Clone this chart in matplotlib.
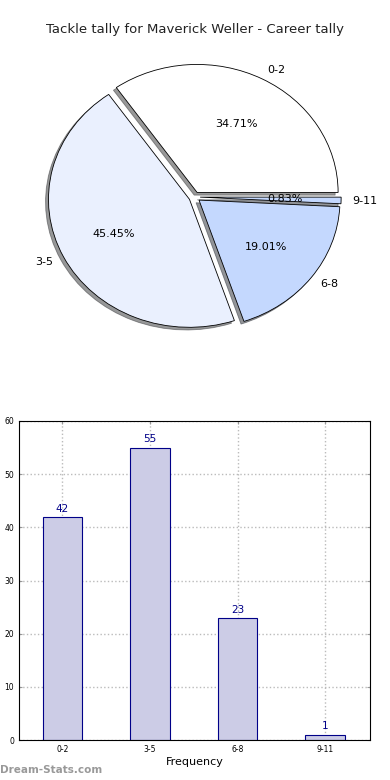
import matplotlib
matplotlib.use("Agg")
import matplotlib.pyplot as plt
import numpy as np

categories = ["0-2", "3-5", "6-8", "9-11"]
tallies = [42, 55, 23, 1]
slice_colors = ["#ffffff", "#eaf0fe", "#c4d8fe", "#c4d8fe"]

fig = plt.figure(figsize=(3.9, 7.8), dpi=100)
fig.text(0.5, 1 - 30 / 780, "Tackle tally for Maverick Weller - Career tally",
         ha="center", va="center", fontsize=9.5, color="#222222")

# pie is slightly squashed in the original: 141 px wide radius, 128 px tall
rx_px, ry_px = 141.0, 128.0
cx_px, cy_px = 194.5, 197.0
ax1 = fig.add_axes([0, 1 - 345 / 780, 1, 295 / 780])
ax1.axis("off")
wedges, texts, autotexts = ax1.pie(
    tallies, labels=categories, colors=slice_colors, explode=[0.04] * 4,
    autopct="%.2f%%", pctdistance=0.6, labeldistance=1.08,
    shadow={"ox": -0.015, "oy": -0.015, "shade": 0.8},
    startangle=0, wedgeprops={"edgecolor": "black", "linewidth": 0.6},
    textprops={"fontsize": 8})
ax1.set_aspect("auto")
ax1.set_xlim(-cx_px / rx_px, (390 - cx_px) / rx_px)
ax1.set_ylim(-(345 - cy_px) / ry_px, (cy_px - 50) / ry_px)

# bar chart
ax2 = fig.add_axes([19 / 390, 40 / 780, 351 / 390, 319 / 780])
x = np.arange(len(categories))
bars = ax2.bar(x, tallies, width=0.45, color="#cccce6", edgecolor="#000088",
               linewidth=0.8, zorder=2)
for xi, v in zip(x, tallies):
    ax2.text(xi, v + 0.6, str(v), ha="center", va="bottom", fontsize=7.5,
             color="#000088")
ax2.set_xlim(-0.497, 3.514)
ax2.set_ylim(0, 60)
ax2.set_yticks(range(0, 61, 10))
ax2.set_xticks(x)
ax2.set_xticklabels(categories)
ax2.tick_params(labelsize=5.5, length=2, direction="in", top=True, right=True,
                colors="#999999", labelcolor="black")
ax2.grid(True, linestyle=":", color="#bbbbbb", linewidth=1, zorder=0)
ax2.set_xlabel("Frequency", fontsize=8, labelpad=2)
for s in ax2.spines.values():
    s.set_linewidth(0.8)

fig.text(0.0, 1 - 770 / 780, "Dream-Stats.com", ha="left", va="center",
         fontsize=7.5, color="#999999", fontweight="bold")

fig.savefig("out.png", dpi=100)
